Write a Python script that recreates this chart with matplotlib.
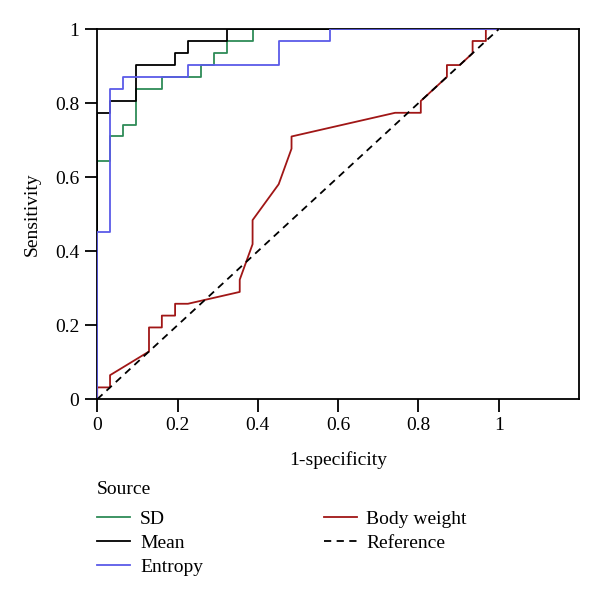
import matplotlib
matplotlib.use('Agg')
import matplotlib.pyplot as plt
from matplotlib.lines import Line2D

plt.rcParams['font.family'] = ['Liberation Serif', 'DejaVu Serif']

# ROC curves (1-specificity, sensitivity)
sd_x = [0, 0, 0.032, 0.032, 0.065, 0.065, 0.097, 0.097, 0.161, 0.161, 0.258, 0.258,
        0.290, 0.290, 0.323, 0.323, 0.387, 0.387, 1]
sd_y = [0, 0.645, 0.645, 0.710, 0.710, 0.742, 0.742, 0.839, 0.839, 0.871, 0.871, 0.903,
        0.903, 0.935, 0.935, 0.968, 0.968, 1, 1]

mean_x = [0, 0, 0.032, 0.032, 0.097, 0.097, 0.194, 0.194, 0.226, 0.226, 0.323, 0.323, 1]
mean_y = [0, 0.774, 0.774, 0.806, 0.806, 0.903, 0.903, 0.935, 0.935, 0.968, 0.968, 1, 1]

entropy_x = [0, 0, 0.032, 0.032, 0.065, 0.065, 0.226, 0.226, 0.452, 0.452, 0.581, 0.581, 1]
entropy_y = [0, 0.452, 0.452, 0.839, 0.839, 0.871, 0.871, 0.903, 0.903, 0.968, 0.968, 1, 1]

bw_x = [0, 0, 0.032, 0.032, 0.129, 0.129, 0.161, 0.161, 0.194, 0.194, 0.226, 0.355,
        0.355, 0.387, 0.387, 0.452, 0.484, 0.484, 0.742, 0.806, 0.806, 0.871, 0.871,
        0.903, 0.935, 0.935, 0.968, 0.968, 1]
bw_y = [0, 0.032, 0.032, 0.065, 0.129, 0.194, 0.194, 0.226, 0.226, 0.258, 0.258, 0.290,
        0.323, 0.419, 0.484, 0.581, 0.677, 0.710, 0.774, 0.774, 0.806, 0.871, 0.903,
        0.903, 0.935, 0.968, 0.968, 1, 1]

ref_x = [0, 1]
ref_y = [0, 1]

ticks = [0, 0.2, 0.4, 0.6, 0.8, 1]
tick_labels = ['0', '0.2', '0.4', '0.6', '0.8', '1']

c_sd = '#2e8b57'
c_mean = 'black'
c_ent = '#5b5be8'
c_bw = '#a01616'

fig = plt.figure(figsize=(6, 5.95), dpi=100)
ax = fig.add_axes([0.162, 0.329, 0.803, 0.622])

ax.plot(sd_x, sd_y, color=c_sd, lw=1.3, zorder=2)
ax.plot(mean_x, mean_y, color=c_mean, lw=1.3, zorder=3)
ax.plot(bw_x, bw_y, color=c_bw, lw=1.3, zorder=4)
ax.plot(entropy_x, entropy_y, color=c_ent, lw=1.3, zorder=5)
ax.plot(ref_x, ref_y, color='black', lw=1.3, ls=(0, (4, 3)), zorder=6)

ax.set_xlim(0, 1.2)
ax.set_ylim(0, 1)
ax.set_xticks(ticks)
ax.set_xticklabels(tick_labels)
ax.set_yticks(ticks)
ax.set_yticklabels(tick_labels)
ax.tick_params(direction='out', length=9, width=1.3, labelsize=14, pad=4)
for s in ax.spines.values():
    s.set_linewidth(1.3)

ax.set_xlabel('1-specificity', fontsize=14, labelpad=12)
ax.set_ylabel('Sensitivity', fontsize=14, labelpad=10)

# legend title drawn separately so the gap below it can be matched
fig.text(0.162, 1 - 489 / 595, 'Source', fontsize=14, ha='left', va='center')

handles = [Line2D([], [], color=c_sd, lw=1.3, label='SD'),
           Line2D([], [], color=c_mean, lw=1.3, label='Mean'),
           Line2D([], [], color=c_ent, lw=1.3, label='Entropy'),
           Line2D([], [], color=c_bw, lw=1.3, label='Body weight'),
           Line2D([], [], color='black', lw=1.3, ls=(0, (4, 3)), label='Reference')]
leg = fig.legend(handles=handles, ncol=2, loc='upper left',
                 bbox_to_anchor=(0.162, 1 - 510 / 595), frameon=False, fontsize=14,
                 borderpad=0, borderaxespad=0,
                 handlelength=1.7, handletextpad=0.5, columnspacing=6.2,
                 labelspacing=0.33)

fig.savefig('out.png', dpi=100)
